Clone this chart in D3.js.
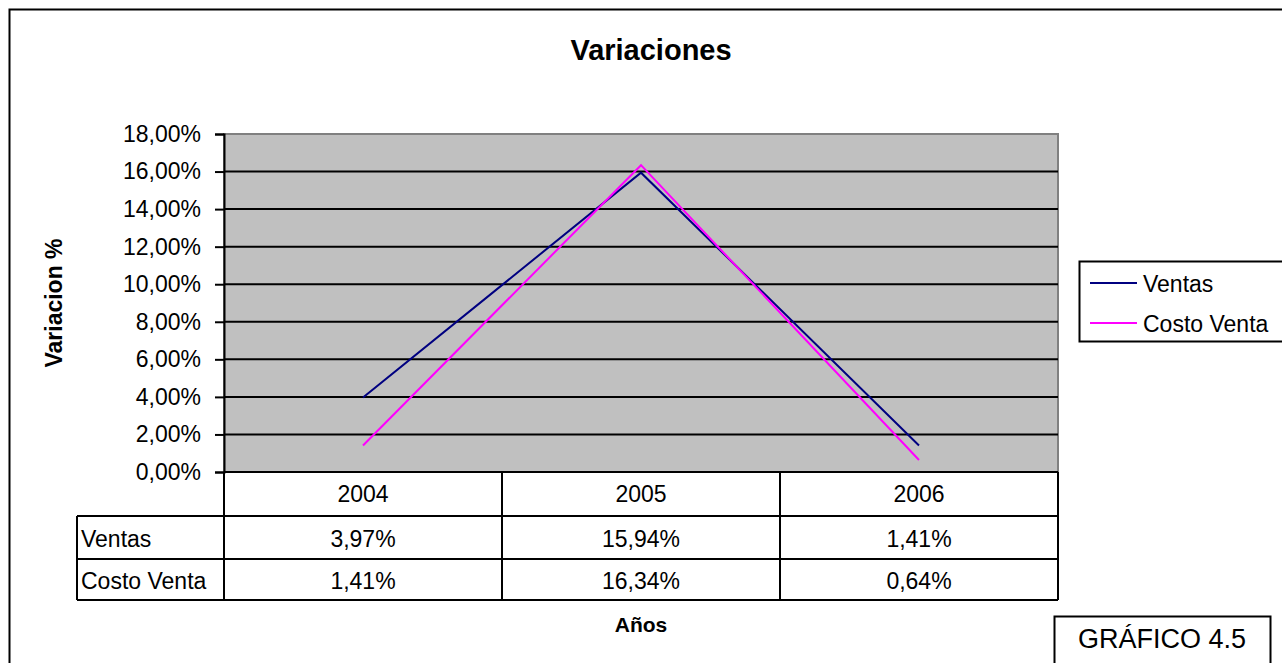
<!DOCTYPE html>
<html>
<head>
<meta charset="utf-8">
<script src="https://cdn.jsdelivr.net/npm/d3@7"></script>
<style>
  html, body { margin: 0; padding: 0; background: #fff; }
  svg { display: block; font-family: "Liberation Sans", Arial, sans-serif; }
</style>
</head>
<body>
<svg id="svg" width="1282" height="663"></svg>
<script>
var years = ["2004", "2005", "2006"];
var seriesNames = ["Ventas", "Costo Venta"];
var ventas = [3.97, 15.94, 1.41];
var costoVenta = [1.41, 16.34, 0.64];
var yTicks = [0, 2, 4, 6, 8, 10, 12, 14, 16, 18];
var colors = ["#000080", "#ff00ff"];

var series = [ventas, costoVenta];

var svg = d3.select("svg");
var fmt = function (v) { return v.toFixed(2).replace(".", ",") + "%"; };
var fs = 23; // body text size

// outer chart border (runs off the picture on right / bottom)
svg.append("rect")
    .attr("x", 9.5).attr("y", 9.5)
    .attr("width", 1290).attr("height", 680)
    .attr("fill", "#fff").attr("stroke", "#000").attr("stroke-width", 2);

svg.append("text")
    .attr("x", 651).attr("y", 60)
    .attr("text-anchor", "middle")
    .attr("font-size", 29).attr("font-weight", "bold")
    .text("Variaciones");

var pLeft = 224, pRight = 1058, pTop = 134, pBottom = 472;

var x = d3.scaleBand().domain(years).range([pLeft, pRight]);
var y = d3.scaleLinear().domain([0, 18]).range([pBottom, pTop]);

// plot area
svg.append("rect")
    .attr("x", pLeft).attr("y", pTop)
    .attr("width", pRight - pLeft).attr("height", pBottom - pTop)
    .attr("fill", "#c0c0c0").attr("stroke", "#808080").attr("stroke-width", 2);

// gridlines
svg.append("g").selectAll("line")
    .data(yTicks.slice(1, -1))
    .enter().append("line")
    .attr("x1", pLeft).attr("x2", pRight)
    .attr("y1", function (d) { return y(d); })
    .attr("y2", function (d) { return y(d); })
    .attr("stroke", "#000").attr("stroke-width", 2);

// y axis
var yAxis = d3.axisLeft(y).tickValues(yTicks).tickFormat(fmt).tickSize(9).tickPadding(14);
var gy = svg.append("g").attr("transform", "translate(" + pLeft + ",0)").call(yAxis);
gy.select(".domain").attr("stroke-width", 2);
gy.selectAll(".tick line").attr("stroke-width", 2);
gy.selectAll("text")
    .attr("font-size", fs).attr("fill", "#000")
    .attr("font-family", "Liberation Sans, Arial, sans-serif");

svg.append("line")
    .attr("x1", pLeft).attr("x2", pRight)
    .attr("y1", pBottom).attr("y2", pBottom)
    .attr("stroke", "#000").attr("stroke-width", 2);

svg.append("text")
    .attr("transform", "translate(62," + ((pTop + pBottom) / 2) + ") rotate(-90)")
    .attr("text-anchor", "middle")
    .attr("font-size", 23).attr("font-weight", "bold")
    .text("Variacion %");

// lines
var line = d3.line()
    .x(function (d, i) { return x(years[i]) + x.bandwidth() / 2; })
    .y(function (d) { return y(d); });

svg.append("g").selectAll("path")
    .data(series)
    .enter().append("path")
    .attr("d", line)
    .attr("fill", "none")
    .attr("stroke", function (d, i) { return colors[i]; })
    .attr("stroke-width", 2);

// data table
var tableLeft = 77;
var rowEdges = [472, 516, 559, 600];
var tbl = svg.append("g");

tbl.selectAll("text.year")
    .data(years)
    .enter().append("text")
    .attr("class", "year")
    .attr("x", function (d) { return x(d) + x.bandwidth() / 2; })
    .attr("y", 502)
    .attr("text-anchor", "middle")
    .attr("font-size", fs)
    .text(function (d) { return d; });

series.forEach(function (vals, r) {
    var by = (rowEdges[r + 1] + rowEdges[r + 2]) / 2 + 9.5;
    tbl.append("text")
        .attr("x", tableLeft + 4).attr("y", by)
        .attr("font-size", fs)
        .text(seriesNames[r]);
    tbl.selectAll("text.v" + r)
        .data(vals)
        .enter().append("text")
        .attr("class", "v" + r)
        .attr("x", function (d, i) { return x(years[i]) + x.bandwidth() / 2; })
        .attr("y", by)
        .attr("text-anchor", "middle")
        .attr("font-size", fs)
        .text(fmt);
});

var hl = [
    [tableLeft, pRight, rowEdges[1]],
    [tableLeft, pRight, rowEdges[2]],
    [tableLeft, pRight, rowEdges[3]]
];
tbl.selectAll("line.h")
    .data(hl)
    .enter().append("line")
    .attr("x1", function (d) { return d[0]; })
    .attr("x2", function (d) { return d[1]; })
    .attr("y1", function (d) { return d[2]; })
    .attr("y2", function (d) { return d[2]; })
    .attr("stroke", "#000").attr("stroke-width", 2);

var vl = years.map(function (d) { return x(d); }).concat([pRight]);
tbl.selectAll("line.v")
    .data(vl)
    .enter().append("line")
    .attr("x1", function (d) { return d; })
    .attr("x2", function (d) { return d; })
    .attr("y1", pBottom).attr("y2", rowEdges[3])
    .attr("stroke", "#000").attr("stroke-width", 2);

tbl.append("line")
    .attr("x1", tableLeft).attr("x2", tableLeft)
    .attr("y1", rowEdges[1]).attr("y2", rowEdges[3])
    .attr("stroke", "#000").attr("stroke-width", 2);

svg.append("text")
    .attr("x", (pLeft + pRight) / 2).attr("y", 632)
    .attr("text-anchor", "middle")
    .attr("font-size", 21).attr("font-weight", "bold")
    .text("Años");

// legend
var lg = svg.append("g");
lg.append("rect")
    .attr("x", 1079.5).attr("y", 261.5)
    .attr("width", 210).attr("height", 80)
    .attr("fill", "#fff").attr("stroke", "#000").attr("stroke-width", 2);
var items = lg.selectAll("g.item")
    .data(seriesNames)
    .enter().append("g")
    .attr("transform", function (d, i) { return "translate(1090," + (283 + i * 40) + ")"; });
items.append("line")
    .attr("x1", 0).attr("x2", 47)
    .attr("stroke", function (d, i) { return colors[i]; })
    .attr("stroke-width", 2);
items.append("text")
    .attr("x", 53).attr("y", 9)
    .attr("font-size", fs)
    .text(function (d) { return d; });

// figure label box
svg.append("rect")
    .attr("x", 1054.5).attr("y", 616.5)
    .attr("width", 216).attr("height", 60)
    .attr("fill", "#fff").attr("stroke", "#000").attr("stroke-width", 2);
svg.append("text")
    .attr("x", 1162).attr("y", 648)
    .attr("text-anchor", "middle")
    .attr("font-size", 27)
    .text("GRÁFICO 4.5");
</script>
</body>
</html>
